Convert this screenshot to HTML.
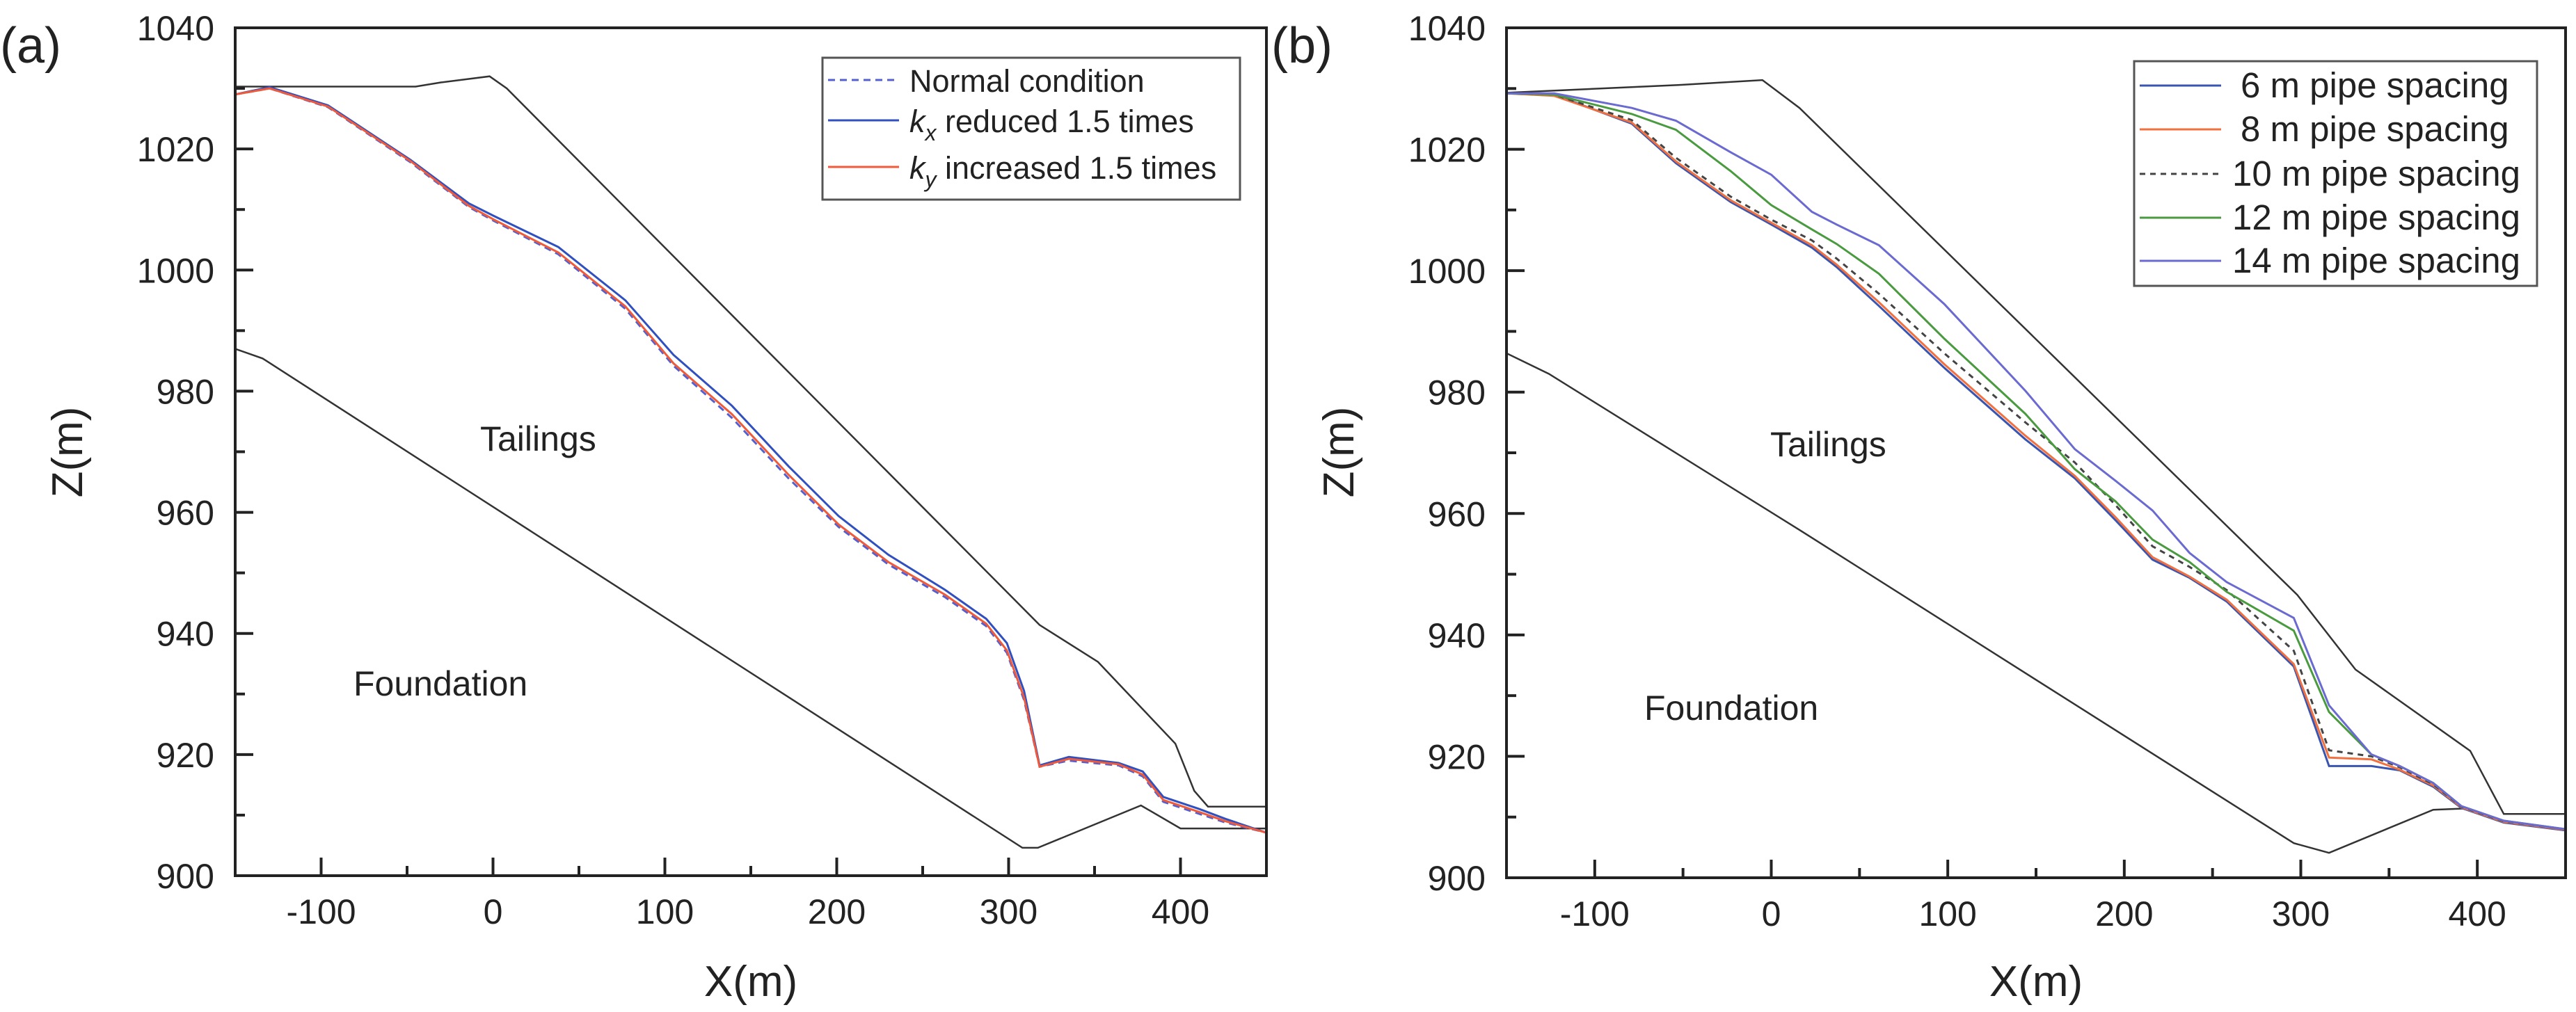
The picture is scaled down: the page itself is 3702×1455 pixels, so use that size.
<!DOCTYPE html>
<html><head><meta charset="utf-8"><style>
html,body{margin:0;padding:0;background:#fff}
svg{display:block}
text{font-family:"Liberation Sans",sans-serif;fill:#222}
</style></head><body>
<svg id="fig" width="3702" height="1455" viewBox="0 0 3702 1455" xmlns="http://www.w3.org/2000/svg"></svg>
<script>
// ---------- data ----------
const xTicks = [-100, 0, 100, 200, 300, 400];
const yTicks = [900, 920, 940, 960, 980, 1000, 1020, 1040];

// Panel (a)
const aTopX = [-150, -45, -30, -2, 8, 318, 352, 397, 408, 416, 450];
const aTopZ = [1030.3, 1030.3, 1031, 1032, 1030, 941.4, 935.3, 921.8, 914, 911.4, 911.4];
const aFoundX = [-150, -134, 308, 317, 377, 400, 450];
const aFoundZ = [987, 985.4, 904.6, 904.6, 911.6, 907.8, 907.8];
const aX = [-150, -130, -96, -48, -14, 0, 38, 77, 105, 139, 172, 201, 230, 263, 287, 299, 309, 318, 335, 364, 378, 390, 411, 426, 450];
const aNormal = [1029, 1030, 1026.9, 1017.8, 1010.4, 1008.2, 1002.6, 993.6, 984.2, 975.6, 965.6, 957.6, 951.4, 946, 941.2, 936.8, 929, 918, 919, 918.2, 916.4, 912.2, 910.2, 908.8, 907.1];
const aKx = [1029, 1030.2, 1027.2, 1018.2, 1011, 1009, 1003.8, 995, 986, 977.6, 967.6, 959.4, 953, 947.2, 942.4, 938.4, 930.5, 918.2, 919.6, 918.6, 917.2, 913, 911, 909.4, 907.1];
const aKy = [1029, 1030, 1027, 1018, 1010.6, 1008.4, 1002.9, 994, 984.6, 976.2, 966.2, 958, 951.8, 946.4, 941.6, 937.2, 929.4, 918, 919.3, 918.4, 916.7, 912.5, 910.5, 909, 907.1];

// Panel (b)
const bTopX = [-150, -51, -5, 16, 298, 331, 396, 415, 450];
const bTopZ = [1029.3, 1030.6, 1031.4, 1026.8, 946.6, 934.3, 920.9, 910.5, 910.5];
const bFoundX = [-150, -126, 16, 296, 316, 375, 392, 400];
const bFoundZ = [986.4, 983, 957.3, 905.7, 904.1, 911.2, 911.4, 910.9];
const bX = [-150, -123, -79, -54, -23, 0, 23, 37, 61, 98, 144, 172, 195, 216, 237, 258, 296, 316, 340, 356, 375, 391, 415, 450];
const b6 = [1029.2, 1029, 1024.2, 1017.7, 1011.3, 1007.6, 1003.8, 1000.6, 994.2, 984, 972.2, 965.8, 958.9, 952.4, 949.4, 945.5, 934.8, 918.4, 918.4, 917.7, 915, 911.5, 909.1, 907.8];
const b8 = [1029.2, 1028.8, 1024.4, 1018, 1011.6, 1007.9, 1004.2, 1001, 994.8, 984.6, 972.8, 966.2, 959.4, 952.8, 949.6, 945.8, 935.2, 919.8, 919.5, 917.8, 915.2, 911.6, 909.2, 907.9];
const b10 = [1029.2, 1029, 1024.8, 1018.6, 1012.2, 1008.4, 1005, 1002, 996.2, 986.4, 975, 968.4, 961.4, 954.6, 951.2, 947.4, 937.4, 921, 920, 918.2, 915.4, 911.7, 909.3, 908];
const b12 = [1029.2, 1029, 1025.8, 1023.2, 1016.4, 1010.8, 1006.8, 1004.4, 999.5, 988.8, 976.4, 967.3, 962, 955.7, 952, 947.1, 940.7, 927.3, 920.3, 918.4, 915.6, 911.8, 909.4, 908];
const b14 = [1029.2, 1029.2, 1026.8, 1024.7, 1019.5, 1015.8, 1009.7, 1007.6, 1004.2, 994.5, 980.2, 970.6, 965.4, 960.5, 953.5, 948.7, 942.8, 928.4, 920.3, 918.4, 915.6, 911.8, 909.4, 908];

// ---------- drawing ----------
const NS = "http://www.w3.org/2000/svg";
const svg = document.getElementById('fig');
function mk(tag, attrs, parent) {
  const e = document.createElementNS(NS, tag);
  for (const k in attrs) e.setAttribute(k, attrs[k]);
  (parent || svg).appendChild(e);
  return e;
}

function panel(p) {
  const g = mk('g', {});
  
  
  const sx = v => p.L + (v - (-150)) / 600 * (p.R - p.L);
  const sy = v => p.B - (v - 900) / 140 * (p.B - p.T);
  const pts = (xs, zs) => xs.map((x, i) => sx(x).toFixed(1) + ',' + sy(zs[i]).toFixed(1)).join(' ');

  const clip = mk('clipPath', { id: 'clip-' + p.name }, g);
  mk('rect', { x: p.L, y: p.T, width: p.R - p.L, height: p.B - p.T }, clip);
  const plot = mk('g', { 'clip-path': 'url(#clip-' + p.name + ')' }, g);

  let e = mk('polyline', { points: pts(p.topX, p.topZ), fill: 'none', stroke: '#333', 'stroke-width': 2.5 }, plot);
  
  
  e = mk('polyline', { points: pts(p.foundX, p.foundZ), fill: 'none', stroke: '#333', 'stroke-width': 2.5 }, plot);
  
  

  p.series.forEach(s => {
    const l = mk('polyline', { points: pts(p.sx, s.z), fill: 'none', stroke: s.c, 'stroke-width': 3, 'stroke-dasharray': s.dash || 'none' }, plot);
    
    
  });

  const fr = mk('rect', { x: p.L, y: p.T, width: p.R - p.L, height: p.B - p.T, fill: 'none', stroke: '#222', 'stroke-width': 4 }, g);
  
  

  for (let v = -100; v <= 400; v += 50) {
    const major = xTicks.indexOf(v) >= 0;
    mk('line', { x1: sx(v), x2: sx(v), y1: p.B, y2: p.B - (major ? 26 : 14), stroke: '#222', 'stroke-width': 4 }, g);
  }
  xTicks.forEach(v => {
    const t = mk('text', { x: sx(v), y: p.B + 69, 'text-anchor': 'middle', 'font-size': 50 }, g);
    t.textContent = v;
    
    
  });
  for (let v = 910; v < 1040; v += 10) {
    const major = yTicks.indexOf(v) >= 0;
    mk('line', { x1: p.L, x2: p.L + (major ? 26 : 14), y1: sy(v), y2: sy(v), stroke: '#222', 'stroke-width': 4 }, g);
  }
  yTicks.forEach(v => {
    const t = mk('text', { x: p.L - 30, y: sy(v) + 18, 'text-anchor': 'end', 'font-size': 50 }, g);
    t.textContent = v;
    
    
  });
  let t = mk('text', { x: (p.L + p.R) / 2, y: 1432, 'text-anchor': 'middle', 'font-size': 62 }, g);
  t.textContent = 'X(m)';
  
  
  t = mk('text', { x: 0, y: 0, 'text-anchor': 'middle', 'font-size': 62, transform: 'translate(' + (p.L - 220) + ',650) rotate(-90)' }, g);
  t.textContent = 'Z(m)';
  
  
  t = mk('text', { x: p.L - 338, y: 90, 'font-size': 72 }, g);
  t.textContent = p.label;
  
  
  t = mk('text', { x: p.tail[0], y: p.tail[1], 'font-size': 50 }, g);
  t.textContent = 'Tailings';
  
  
  t = mk('text', { x: p.found[0], y: p.found[1], 'font-size': 50 }, g);
  t.textContent = 'Foundation';
  
  

  const lg = mk('g', {}, g);
  
  
  const b = p.leg;
  mk('rect', { x: b.x, y: b.y, width: b.w, height: b.h, fill: '#fff', stroke: '#555', 'stroke-width': 3 }, lg);
  p.series.forEach((s, i) => {
    const cy = b.rows[i];
    const en = mk('g', {}, lg);
    
    
    mk('line', { x1: b.x + 8, x2: b.x + b.lw, y1: cy, y2: cy, stroke: s.c, 'stroke-width': 3, 'stroke-dasharray': s.dash || 'none' }, en);
    const tx = mk('text', { x: b.tx[i], y: cy + 17, 'font-size': b.fs }, en);
    tx.innerHTML = s.label;
  });
}

panel({
  name: 'panel-a', label: '(a)', L: 338, R: 1820, T: 40, B: 1259,
  topX: aTopX, topZ: aTopZ, foundX: aFoundX, foundZ: aFoundZ, sx: aX,
  series: [
    { id: 'normal-condition-line', z: aNormal, c: '#5560d0', dash: '10,7', label: 'Normal condition' },
    { id: 'kx-reduced-line', z: aKx, c: '#3050c0', label: '<tspan font-style="italic">k</tspan><tspan font-style="italic" font-size="32" dy="12">x</tspan><tspan dy="-12"> reduced 1.5 times</tspan>' },
    { id: 'ky-increased-line', z: aKy, c: '#ee5a3a', label: '<tspan font-style="italic">k</tspan><tspan font-style="italic" font-size="32" dy="12">y</tspan><tspan dy="-12"> increased 1.5 times</tspan>' }
  ],
  leg: { x: 1182, y: 83, w: 600, h: 204, lw: 110, rows: [115, 173, 240], tx: [1307, 1307, 1307], fs: 45 },
  tail: [690, 648], found: [508, 1000]
});

panel({
  name: 'panel-b', label: '(b)', L: 2165, R: 3687, T: 40, B: 1262,
  topX: bTopX, topZ: bTopZ, foundX: bFoundX, foundZ: bFoundZ, sx: bX,
  series: [
    { id: 'spacing-6m-line', z: b6, c: '#3a55b0', label: '6 m pipe spacing' },
    { id: 'spacing-8m-line', z: b8, c: '#f07040', label: '8 m pipe spacing' },
    { id: 'spacing-10m-line', z: b10, c: '#444', dash: '8,7', label: '10 m pipe spacing' },
    { id: 'spacing-12m-line', z: b12, c: '#4a9a40', label: '12 m pipe spacing' },
    { id: 'spacing-14m-line', z: b14, c: '#6a6ad0', label: '14 m pipe spacing' }
  ],
  leg: { x: 3067, y: 88, w: 579, h: 323, lw: 125, rows: [123, 186, 250, 313, 375], tx: [3220, 3220, 3208, 3208, 3208], fs: 51 },
  tail: [2544, 656], found: [2363, 1035]
});
</script>
</body></html>
